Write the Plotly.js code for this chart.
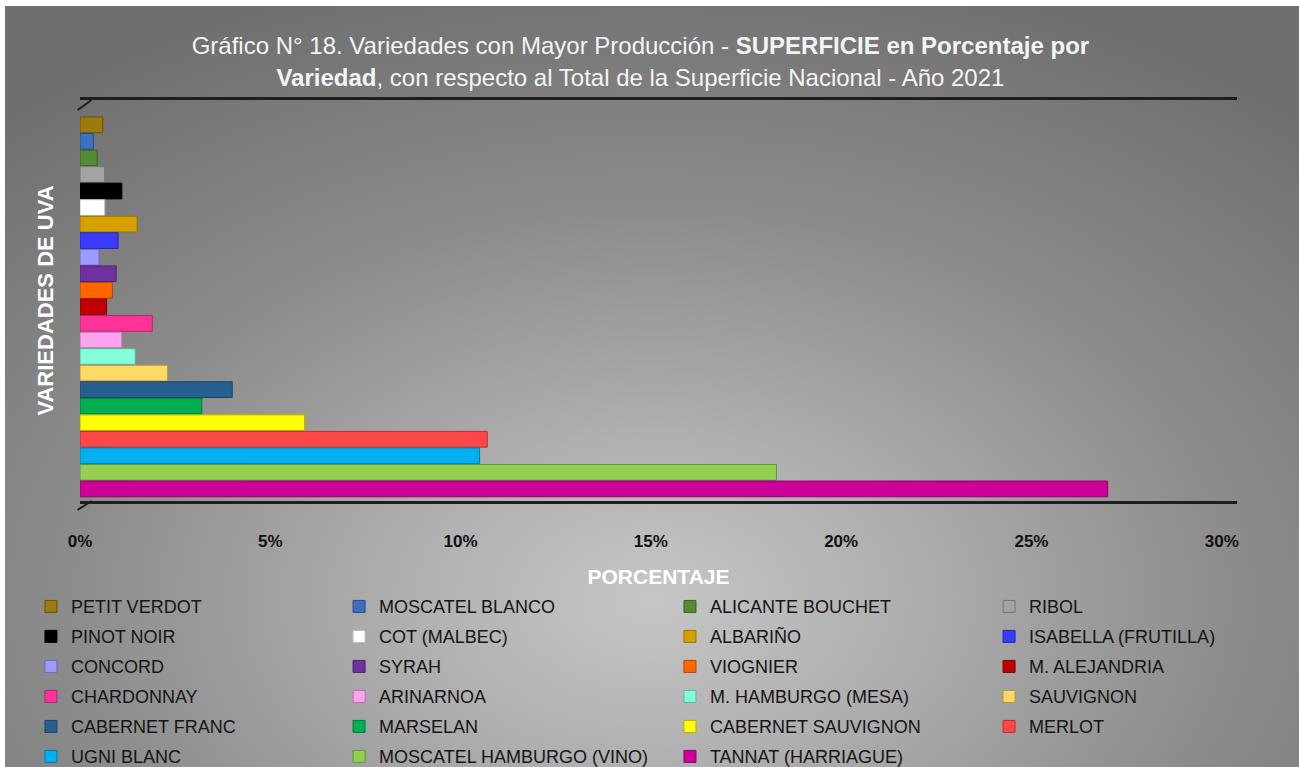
<!DOCTYPE html>
<html>
<head>
<meta charset="utf-8">
<script src="https://cdn.plot.ly/plotly-3.0.1.min.js"></script>
<style>
  html, body { margin: 0; padding: 0; background: #ffffff; }
  #bg {
    position: absolute; left: 5px; top: 6px; width: 1294px; height: 761px;
    background: radial-gradient(ellipse 75% 85% at 50% 78%, #c6c6c6 0%, #b0b0b0 25%, #8c8c8c 60%, #6f6f6f 100%);
  }
  #chart { position: absolute; left: 0; top: 0; width: 1299px; height: 767px; }
</style>
</head>
<body>
<div id="bg"></div>
<div id="chart"></div>
<script>
// Legend / trace order (Excel series order, read row by row in the legend)
const varieties = [
  "PETIT VERDOT", "MOSCATEL BLANCO", "ALICANTE BOUCHET", "RIBOL",
  "PINOT NOIR", "COT (MALBEC)", "ALBARIÑO", "ISABELLA (FRUTILLA)",
  "CONCORD", "SYRAH", "VIOGNIER", "M. ALEJANDRIA",
  "CHARDONNAY", "ARINARNOA", "M. HAMBURGO (MESA)", "SAUVIGNON",
  "CABERNET FRANC", "MARSELAN", "CABERNET SAUVIGNON", "MERLOT",
  "UGNI BLANC", "MOSCATEL HAMBURGO (VINO)", "TANNAT (HARRIAGUE)"
];
// Percentage of national surface
const percentages = [
  0.6, 0.35, 0.45, 0.65,
  1.1, 0.65, 1.5, 1.0,
  0.5, 0.95, 0.85, 0.7,
  1.9, 1.1, 1.45, 2.3,
  4.0, 3.2, 5.9, 10.7,
  10.5, 18.3, 27.0
];
const colors = [
  "#9c7a0f", "#3f6fbf", "#548c35", "#a3a3a3",
  "#000000", "#ffffff", "#d6a100", "#3b3bff",
  "#9c9cff", "#7030a0", "#ff6600", "#c00000",
  "#ff3399", "#ffa3f0", "#84ffdc", "#ffd966",
  "#27608f", "#00b050", "#ffff00", "#ff4747",
  "#00b0f0", "#92d050", "#cc0099"
];
const edgeColors = [
  "#6b5308", "#2a4c85", "#3a6124", "#757575",
  "#000000", "#bdbdbd", "#9a7400", "#2626b3",
  "#6b6bbf", "#4d2070", "#b34700", "#850000",
  "#b3236b", "#b373a8", "#5cb39a", "#b39847",
  "#1a4364", "#007a38", "#b3b300", "#b33232",
  "#007ba8", "#669138", "#8f006b"
];
const tickValues = [0, 5, 10, 15, 20, 25, 30];
const tickLabels = ["0%", "5%", "10%", "15%", "20%", "25%", "30%"];

// Category order from bottom to top
const categoryOrder = varieties.slice().reverse();
const legendIds = ["legend", "legend2", "legend3", "legend4"];

const traces = varieties.map((name, i) => ({
  type: "bar",
  orientation: "h",
  name: name,
  x: [percentages[i]],
  y: [name],
  width: 0.95,
  legend: legendIds[i % 4],
  legendgroup: "g" + i,
  marker: { color: colors[i], line: { color: edgeColors[i], width: 1 } },
  hoverinfo: "name+x"
}));

const FONT = "Liberation Sans, Arial, sans-serif";
function legendAt(xPaper) {
  return {
    orientation: "v",
    x: xPaper, xanchor: "left",
    y: -0.2175, yanchor: "top",
    font: { size: 18, color: "#151515", family: FONT },
    bgcolor: "rgba(0,0,0,0)",
    traceorder: "grouped",
    tracegroupgap: 3.6,
    itemclick: false, itemdoubleclick: false
  };
}

const layout = {
  width: 1299,
  height: 767,
  paper_bgcolor: "rgba(0,0,0,0)",
  plot_bgcolor: "rgba(0,0,0,0)",
  font: { family: FONT, color: "#111111" },
  margin: { l: 80, r: 62, t: 100, b: 266, autoexpand: false },
  barmode: "overlay",
  title: {
    text: "Gráfico N° 18. Variedades con Mayor Producción - <b>SUPERFICIE en Porcentaje por</b><br><b>Variedad</b>, con respecto al Total de la Superficie Nacional - Año 2021",
    font: { size: 24, color: "#f4f4f4", family: FONT },
    x: 0.493, xanchor: "center",
    y: 0.929, yanchor: "middle"
  },
  xaxis: {
    range: [0, 30.4],
    tickvals: tickValues,
    ticktext: tickLabels,
    ticks: "outside", ticklen: 23, tickcolor: "rgba(0,0,0,0)",
    tickfont: { size: 17, color: "#111111", family: FONT, weight: "bold" },
    showgrid: false, zeroline: false,
    showline: true, linecolor: "#1e1e1e", linewidth: 3, mirror: true,
    title: { text: "<b>PORCENTAJE</b>", font: { size: 21, color: "#ffffff" }, standoff: 19 },
    fixedrange: true
  },
  yaxis: {
    type: "category",
    categoryorder: "array",
    categoryarray: categoryOrder,
    range: [-0.73, 23.5],
    showticklabels: false,
    showgrid: false, zeroline: false, showline: false,
    title: { text: "<b>VARIEDADES DE UVA</b>", font: { size: 22, color: "#ffffff" }, standoff: 19 },
    fixedrange: true
  },
  legend: legendAt(-0.0424),
  legend2: legendAt(0.2239),
  legend3: legendAt(0.5099),
  legend4: legendAt(0.7857),
  shapes: [
    { type: "line", xref: "paper", yref: "paper", x0: -0.002, y0: -0.022, x1: 0.01, y1: 0.0, line: { color: "#1e1e1e", width: 2 } },
    { type: "line", xref: "paper", yref: "paper", x0: -0.002, y0: 0.975, x1: 0.01, y1: 1.0, line: { color: "#1e1e1e", width: 2 } }
  ],
  showlegend: true
};

Plotly.newPlot("chart", traces, layout, { displayModeBar: false, staticPlot: true });
</script>
</body>
</html>
